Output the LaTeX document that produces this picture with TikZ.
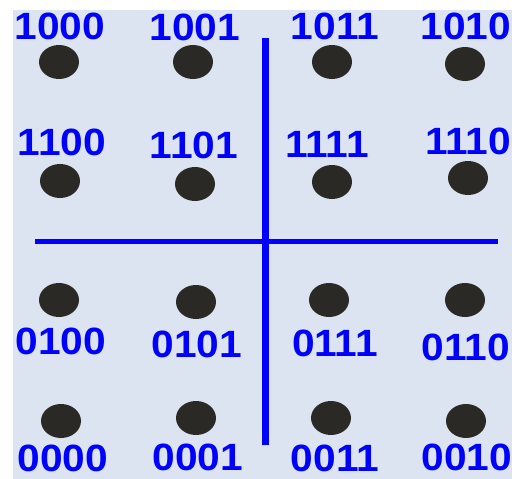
\documentclass[tikz,border=0pt]{standalone}
\usepackage{fontspec}
\setmainfont{Liberation Sans}
\usepackage{xcolor}
\usetikzlibrary{shapes.geometric}
\definecolor{panelbg}{RGB}{219,228,240}
\definecolor{dotgray}{RGB}{43,41,38}
\tikzset{
    pt/.style={ellipse, fill=dotgray, draw=none, minimum width=40, minimum height=34, inner sep=0},
    bits/.style={text=blue, font=\fontsize{38}{38}\selectfont\bfseries, inner sep=0, xscale=1.07},
    axis/.style={draw=blue}
}
\begin{document}
\begin{tikzpicture}[x=1pt, y=-1pt]
\useasboundingbox (0,0) rectangle (515,479);
% Background panel
\fill[panelbg] (13,10) rectangle (512,479);
\begin{scope}
\clip (13,10) rectangle (512,479);

% Points, upper half
\node[pt] (p1000) at (59,62) {};
\node[pt] (p1001) at (193,62) {};
\node[pt] (p1011) at (332,62) {};
\node[pt] (p1010) at (465,64) {};
\node[pt] (p1100) at (60,181) {};
\node[pt] (p1101) at (195,184) {};
\node[pt] (p1111) at (332,182) {};
\node[pt] (p1110) at (468,178) {};

% Points, lower half
\node[pt] (p0100) at (59,300) {};
\node[pt] (p0101) at (196,302) {};
\node[pt] (p0111) at (329,300) {};
\node[pt] (p0110) at (465,300) {};
\node[pt] (p0000) at (61,421) {};
\node[pt] (p0001) at (196,418) {};
\node[pt] (p0011) at (331,418) {};
\node[pt] (p0010) at (466,421) {};

% Labels
\node[bits] (l1000) at (60,26) {1000};
\node[bits] (l1001) at (195,27) {1001};
\node[bits] (l1011) at (335,26) {1011};
\node[bits] (l1010) at (466,26) {1010};
\node[bits] (l1100) at (62,142) {1100};
\node[bits] (l1101) at (194,145) {1101};
\node[bits] (l1111) at (327,144) {1111};
\node[bits] (l1110) at (468,141) {1110};
\node[bits] (l0100) at (61,341) {0100};
\node[bits] (l0101) at (197,344) {0101};
\node[bits] (l0111) at (335,343) {0111};
\node[bits] (l0110) at (466,347) {0110};
\node[bits] (l0000) at (63,458) {0000};
\node[bits] (l0001) at (198,457) {0001};
\node[bits] (l0011) at (335,458) {0011};
\node[bits] (l0010) at (467,457) {0010};

% Decision boundaries
\coordinate (vtop) at (265.5,38);
\coordinate (vbot) at (265.5,445);
\coordinate (hleft) at (35,241.5);
\coordinate (hright) at (498,241.5);
\draw[axis, line width=7] (vtop) -- (vbot);
\draw[axis, line width=5] (hleft) -- (hright);
\end{scope}
\end{tikzpicture}
\end{document}
